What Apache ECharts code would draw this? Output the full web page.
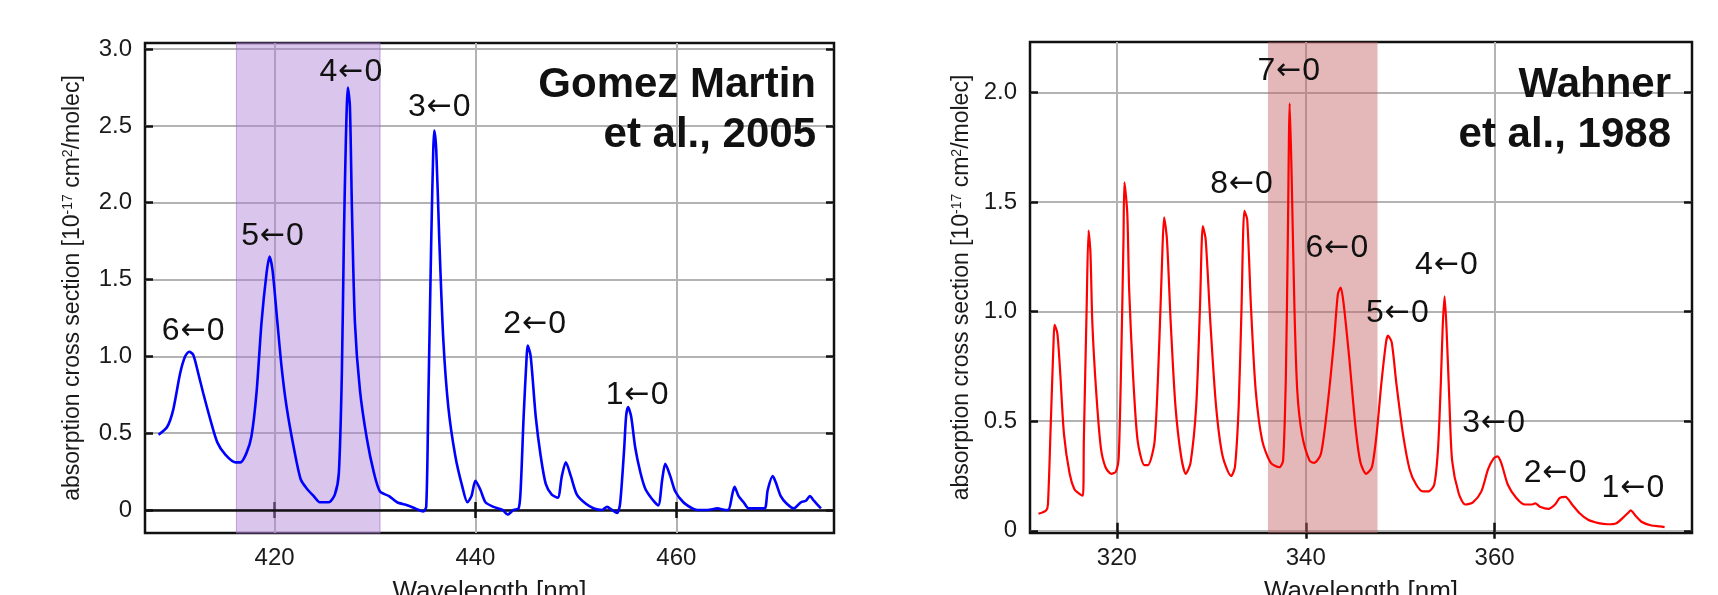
<!DOCTYPE html>
<html>
<head>
<meta charset="utf-8">
<script src="https://cdn.jsdelivr.net/npm/echarts@6/dist/echarts.min.js"></script>
<style>
html,body{margin:0;padding:0;background:#fff;}
#chart{width:1718px;height:595px;}
</style>
</head>
<body>
<div id="chart"></div>
<script>
// ---- Gomez Martin et al., 2005 (IO) ----
const gmWavelength = [408.45,409.3,409.9,410.6,411.1,411.5,411.9,412.4,412.9,413.6,414.3,415.1,416.1,416.6,417.2,417.7,418.2,418.7,419.2,419.5,419.8,420.2,420.7,421.2,421.9,422.6,423.2,423.9,424.5,425.4,426.0,426.4,426.7,426.9,427.1,427.3,427.5,427.7,428.0,428.5,429.2,429.9,430.5,431.4,432.2,433.2,434.0,434.8,435.1,435.3,435.6,435.8,435.9,436.1,436.4,436.8,437.3,438.0,438.7,439.2,439.6,440.0,440.5,441.0,441.8,442.7,443.2,443.8,444.3,444.5,444.8,445.1,445.2,445.5,446.0,446.5,447.0,447.6,448.2,448.6,449.0,449.5,450.1,451.0,451.8,452.6,453.1,453.6,454.1,454.4,454.8,455.0,455.2,455.5,455.9,456.4,456.9,457.6,458.2,458.6,458.9,459.4,459.9,460.7,461.6,462.1,463.1,464.1,464.9,465.2,465.6,465.8,466.2,466.7,467.2,468.1,468.8,469.1,469.6,469.9,470.4,471.0,471.7,472.4,472.9,473.3,473.7,474.4];
const gmSigma = [0.49,0.54,0.65,0.89,1.00,1.03,1.01,0.89,0.76,0.59,0.44,0.36,0.31,0.31,0.37,0.48,0.76,1.22,1.54,1.65,1.56,1.28,0.93,0.67,0.41,0.20,0.14,0.09,0.05,0.05,0.10,0.24,0.89,1.76,2.41,2.75,2.63,1.97,1.22,0.78,0.46,0.24,0.12,0.09,0.05,0.03,0.01,-0.01,0.02,0.67,1.76,2.34,2.47,2.34,1.76,1.11,0.67,0.35,0.15,0.05,0.09,0.19,0.13,0.05,0.02,0.00,-0.03,0.00,0.01,0.13,0.61,1.00,1.07,1.00,0.61,0.35,0.17,0.10,0.08,0.22,0.31,0.22,0.10,0.04,0.01,0.00,0.02,0.00,-0.02,0.04,0.39,0.61,0.67,0.61,0.41,0.25,0.14,0.07,0.03,0.20,0.30,0.22,0.12,0.05,0.01,0.00,0.00,0.01,0.00,0.00,0.11,0.15,0.09,0.05,0.01,0.01,0.01,0.13,0.22,0.18,0.09,0.04,0.01,0.05,0.06,0.09,0.06,0.01];
const gmBand = [416.2, 430.5];
const gmXTicks = [420, 440, 460];
const gmYTicks = [0, 0.5, 1.0, 1.5, 2.0, 2.5, 3.0];
const gmBandLabels = ['6←0','5←0','4←0','3←0','2←0','1←0'];
const gmLabelWl = [411.9, 419.8, 427.6, 436.4, 445.9, 456.1];
const gmLabelSigma = [1.165, 1.78, 2.85, 2.62, 1.21, 0.75];
const gmRef = 'Gomez Martin\net al., 2005';

// ---- Wahner et al., 1988 (OClO) ----
const wWavelength = [311.7,312.5,312.7,313.0,313.3,313.4,313.7,314.0,314.4,315.0,315.5,316.0,316.4,316.5,316.8,317.0,317.2,317.4,317.8,318.3,318.8,319.4,319.9,320.2,320.5,320.7,320.8,321.1,321.3,321.7,322.2,322.9,323.3,324.0,324.5,324.8,325.0,325.3,325.7,326.2,326.8,327.3,327.8,328.4,328.8,329.1,329.4,329.9,330.5,331.2,332.1,332.5,332.9,333.2,333.5,333.8,334.2,334.7,335.4,336.3,337.2,337.6,337.9,338.1,338.3,338.5,338.8,339.1,339.6,340.4,340.9,341.6,342.3,343.0,343.4,343.7,344.0,344.6,345.3,345.8,346.4,347.0,347.5,348.0,348.5,348.7,349.1,349.6,350.3,351.0,351.7,352.4,353.0,353.6,354.0,354.3,354.5,354.7,354.9,355.2,355.5,356.2,356.9,357.7,358.6,359.3,359.9,360.3,360.7,361.4,362.3,363.2,363.9,364.3,364.8,365.7,366.4,366.9,367.5,368.2,369.0,369.9,371.0,372.0,372.9,373.6,374.2,374.4,374.9,375.6,376.6,377.5,378.0];
const wSigma = [0.078,0.093,0.12,0.49,0.87,0.94,0.90,0.72,0.44,0.26,0.19,0.17,0.16,0.41,1.02,1.37,1.27,0.95,0.64,0.38,0.29,0.26,0.27,0.34,0.87,1.33,1.59,1.45,1.10,0.72,0.41,0.30,0.30,0.41,0.87,1.25,1.43,1.33,0.95,0.57,0.34,0.26,0.31,0.57,1.02,1.39,1.33,0.95,0.57,0.34,0.25,0.29,0.57,1.02,1.46,1.42,1.02,0.64,0.41,0.31,0.29,0.32,0.72,1.33,1.95,1.63,1.02,0.64,0.44,0.32,0.31,0.35,0.57,0.87,1.08,1.11,1.04,0.79,0.46,0.31,0.26,0.29,0.44,0.67,0.86,0.89,0.86,0.67,0.44,0.28,0.21,0.18,0.18,0.21,0.37,0.67,0.93,1.07,0.93,0.60,0.32,0.17,0.12,0.13,0.18,0.28,0.33,0.34,0.31,0.21,0.15,0.12,0.12,0.125,0.11,0.10,0.12,0.15,0.155,0.12,0.08,0.05,0.035,0.03,0.035,0.06,0.085,0.093,0.07,0.04,0.024,0.02,0.017];
const wBand = [336.0, 347.6];
const wXTicks = [320, 340, 360];
const wYTicks = [0, 0.5, 1.0, 1.5, 2.0];
const wBandLabels = ['7←0','8←0','6←0','4←0','5←0','3←0','2←0','1←0'];
const wLabelWl = [338.2, 333.2, 343.3, 354.9, 349.7, 359.9, 366.4, 374.65];
const wLabelSigma = [2.097, 1.58, 1.29, 1.21, 0.994, 0.49, 0.263, 0.196];
const wRef = 'Wahner\net al., 1988';

// axis name: absorption cross section [10^-17 cm^2/molec]
const yName = '{n|absorption cross section [10}{s|-17}{n| cm}{s|2}{n|/molec]}';
const xName = 'Wavelength [nm]';

// ---- styling ----
const FONT = 'Liberation Sans, Arial, sans-serif';
const TXT = '#1a1a1a';
const gridColor = '#b3b3b3';

function fmtY(v){ return v === 0 ? '0' : v.toFixed(1); }

function mainX(gi, min, max, ticks){
  return {
    type:'value', gridIndex:gi, min:min, max:max, position:'bottom',
    name:xName, nameLocation:'middle', nameGap:46,
    nameTextStyle:{fontFamily:FONT, fontSize:26, color:TXT},
    axisLine:{show:false},
    axisTick:{show:true, inside:true, length:8, customValues:ticks, lineStyle:{color:'#111', width:2.5}},
    axisLabel:{customValues:ticks, fontFamily:FONT, fontSize:24, color:TXT, margin:13},
    splitLine:{show:true, lineStyle:{color:gridColor, width:2}}
  };
}
function topX(gi, min, max, ticks){
  return {
    type:'value', gridIndex:gi, min:min, max:max, position:'top',
    axisLine:{show:false},
    axisTick:{show:true, inside:true, length:8, customValues:ticks, lineStyle:{color:'#111', width:2.5}},
    axisLabel:{show:false}, splitLine:{show:false}
  };
}
function mainY(gi, min, max, ticks, gap){
  return {
    type:'value', gridIndex:gi, min:min, max:max, position:'left',
    name:yName, nameLocation:'middle', nameGap:gap, nameRotate:90,
    nameTextStyle:{fontFamily:FONT, fontSize:23, color:TXT,
      rich:{
        n:{fontFamily:FONT, fontSize:23, color:TXT, lineHeight:24},
        s:{fontFamily:FONT, fontSize:14, color:TXT, lineHeight:14, verticalAlign:'top'}
      }},
    axisLine:{show:false},
    axisTick:{show:true, inside:true, length:8, customValues:ticks, lineStyle:{color:'#111', width:2.5}},
    axisLabel:{customValues:ticks, formatter:fmtY, fontFamily:FONT, fontSize:24, color:TXT, margin:13},
    splitLine:{show:true, lineStyle:{color:gridColor, width:2}}
  };
}
function rightY(gi, min, max, ticks){
  return {
    type:'value', gridIndex:gi, min:min, max:max, position:'right',
    axisLine:{show:false},
    axisTick:{show:true, inside:true, length:8, customValues:ticks, lineStyle:{color:'#111', width:2.5}},
    axisLabel:{show:false}, splitLine:{show:false}
  };
}
function bandPoints(names, xs, ys){
  return names.map((n,i)=>({name:n, coord:[xs[i], ys[i]]}));
}
const markLabelStyle = {
  show:true, position:'inside',
  formatter:p=>'{d|'+p.name[0]+'}{a|'+p.name[1]+'}{d|'+p.name[2]+'}',
  rich:{
    d:{fontFamily:FONT, fontSize:32, color:'#111'},
    a:{fontFamily:'DejaVu Sans', fontSize:30, color:'#111', padding:[0,1,0,1]}
  }
};

const option = {
  animation:false,
  backgroundColor:'#fff',
  title:[
    {text:gmRef, left:816, top:60, padding:0, textAlign:'right',
     textStyle:{fontFamily:FONT, fontSize:42, fontWeight:'bold', color:'#111', lineHeight:50}},
    {text:wRef, left:1671, top:60, padding:0, textAlign:'right',
     textStyle:{fontFamily:FONT, fontSize:42, fontWeight:'bold', color:'#111', lineHeight:50}}
  ],
  grid:[
    {left:145, top:43, width:689, height:490, show:true, borderColor:'#111', borderWidth:2.5,
     backgroundColor:'transparent', containLabel:false, outerBoundsMode:'none'},
    {left:1030, top:42, width:662, height:491, show:true, borderColor:'#111', borderWidth:2.5,
     backgroundColor:'transparent', containLabel:false, outerBoundsMode:'none'}
  ],
  xAxis:[
    mainX(0, 407.1, 475.7, gmXTicks), topX(0, 407.1, 475.7, gmXTicks),
    mainX(1, 310.8, 380.9, wXTicks), topX(1, 310.8, 380.9, wXTicks)
  ],
  yAxis:[
    mainY(0, -0.15, 3.04, gmYTicks, 60), rightY(0, -0.15, 3.04, gmYTicks),
    mainY(1, -0.01, 2.23, wYTicks, 56), rightY(1, -0.01, 2.23, wYTicks)
  ],
  series:[
    {
      type:'line', xAxisIndex:0, yAxisIndex:0, showSymbol:false, smooth:0.25, silent:true,
      data: gmWavelength.map((w,i)=>[w, gmSigma[i]]),
      lineStyle:{color:'#0000ff', width:2.6}, z:5,
      markArea:{silent:true, itemStyle:{color:'rgba(173,128,213,0.45)', borderColor:'rgba(160,110,205,0.6)', borderWidth:1},
        data:[[{xAxis:gmBand[0]},{xAxis:gmBand[1]}]]},
      markLine:{silent:true, symbol:['none','none'], label:{show:false},
        lineStyle:{color:'#111', width:2.5, type:'solid'}, data:[{yAxis:0}]},
      markPoint:{silent:true, symbol:'circle', symbolSize:1, itemStyle:{color:'transparent'},
        label:markLabelStyle, data:bandPoints(gmBandLabels, gmLabelWl, gmLabelSigma)}
    },
    {
      type:'line', xAxisIndex:2, yAxisIndex:2, showSymbol:false, smooth:0.25, silent:true,
      data: wWavelength.map((w,i)=>[w, wSigma[i]]),
      lineStyle:{color:'#ff0000', width:2.2}, z:5,
      markArea:{silent:true, itemStyle:{color:'rgba(195,97,97,0.45)'},
        data:[[{xAxis:wBand[0]},{xAxis:wBand[1]}]]},
      markPoint:{silent:true, symbol:'circle', symbolSize:1, itemStyle:{color:'transparent'},
        label:markLabelStyle, data:bandPoints(wBandLabels, wLabelWl, wLabelSigma)}
    }
  ]
};

const chart = echarts.init(document.getElementById('chart'), null, {renderer:'canvas'});
chart.setOption(option);
</script>
</body>
</html>
